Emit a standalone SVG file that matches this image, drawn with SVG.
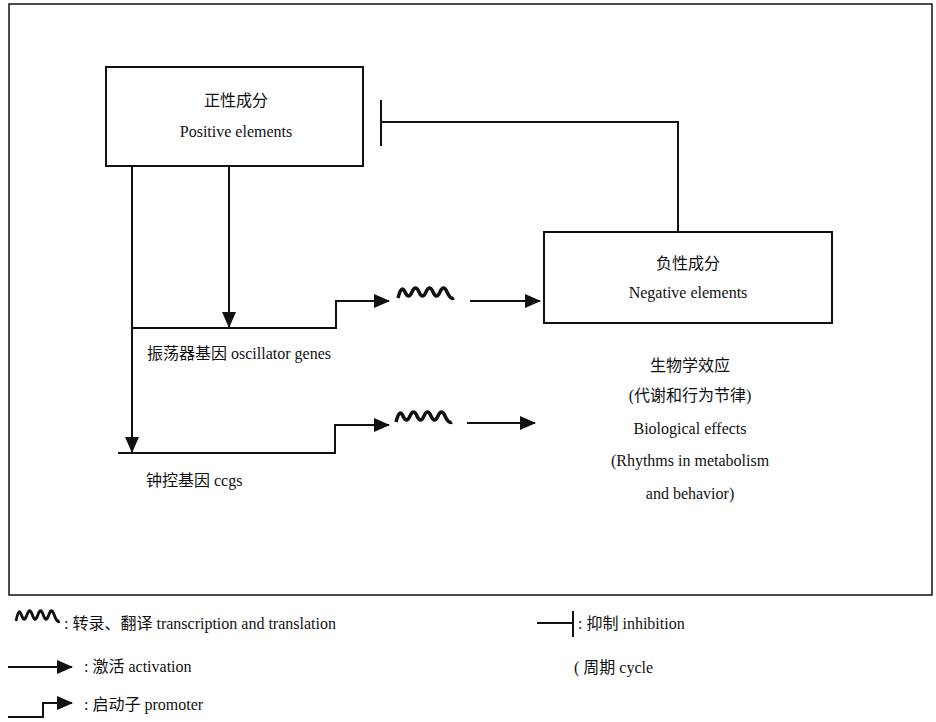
<svg xmlns="http://www.w3.org/2000/svg" width="936" height="722" viewBox="0 0 936 722">
<defs>
<marker id="ah" markerWidth="16" markerHeight="14" refX="15" refY="7" orient="auto" markerUnits="userSpaceOnUse">
<path d="M0,0 L16,7 L0,14 Z" fill="#111"/>
</marker>
<path id="wave" d="M0,6 q3.5,-14 7,-6 q3.5,8 7,0 q3.5,-8 7,0 q3.5,8 7,0 q3.5,-8 7,0 q3.5,8 7,0 q3.5,-8 7,0 q3.5,8 7,6" fill="none" stroke="#111" stroke-width="3.5" stroke-linejoin="round"/>
</defs>
<style>
.ln{fill:none;stroke:#111;stroke-width:2}
.box{fill:#fff;stroke:#111;stroke-width:2}
.t{font-family:"Liberation Serif","Noto Sans CJK SC",serif;font-size:16px;fill:#111}
.c{text-anchor:middle}
</style>
<rect x="0" y="0" width="936" height="722" fill="#fff"/>
<rect x="9" y="4" width="923" height="591" fill="none" stroke="#111" stroke-width="1.5"/>

<g id="connectors">
<path class="ln" d="M132,167 V452" marker-end="url(#ah)"/>
<path class="ln" d="M118,453 H335 V425 H389" marker-end="url(#ah)"/>
<use href="#wave" x="396" y="416"/>
<path class="ln" d="M467,423 H535" marker-end="url(#ah)"/>
<path class="ln" d="M229,167 V327" marker-end="url(#ah)"/>
<path class="ln" d="M133,328 H336 V301 H389" marker-end="url(#ah)"/>
<use href="#wave" x="398" y="292"/>
<path class="ln" d="M470,301 H540" marker-end="url(#ah)"/>
<path class="ln" d="M678,231 V122 H381"/>
<path class="ln" d="M381,100 V146"/>
</g>

<g id="positive">
<rect class="box" x="106" y="67" width="257" height="99"/>
<text class="t c" x="236" y="106">正性成分</text>
<text class="t c" x="236" y="137">Positive elements</text>
</g>

<g id="negative">
<rect class="box" x="544" y="232" width="288" height="91"/>
<text class="t c" x="688" y="269">负性成分</text>
<text class="t c" x="688" y="298">Negative elements</text>
</g>

<g id="oscillator-genes">
<text class="t" x="147" y="359">振荡器基因 oscillator genes</text>
</g>

<g id="ccgs">
<text class="t" x="146" y="486">钟控基因 ccgs</text>
</g>

<g id="effects">
<text class="t c" x="690" y="371">生物学效应</text>
<text class="t c" x="690" y="401">(代谢和行为节律)</text>
<text class="t c" x="690" y="434">Biological effects</text>
<text class="t c" x="690" y="466">(Rhythms in metabolism</text>
<text class="t c" x="690" y="499">and behavior)</text>
</g>

<g id="legend">
<use href="#wave" transform="translate(16,615) scale(0.78,1)"/>
<text class="t" x="64" y="629">: 转录、翻译 transcription and translation</text>
<path class="ln" d="M8,667 H72" marker-end="url(#ah)"/>
<text class="t" x="84" y="672">: 激活 activation</text>
<path class="ln" d="M8,717 H43 V703 H72" marker-end="url(#ah)"/>
<text class="t" x="84" y="710">: 启动子 promoter</text>
<path class="ln" d="M537,623 H573"/>
<path class="ln" d="M573,611 V637"/>
<text class="t" x="578" y="629">: 抑制 inhibition</text>
<text class="t" x="574" y="673">( 周期 cycle</text>
</g>
</svg>
